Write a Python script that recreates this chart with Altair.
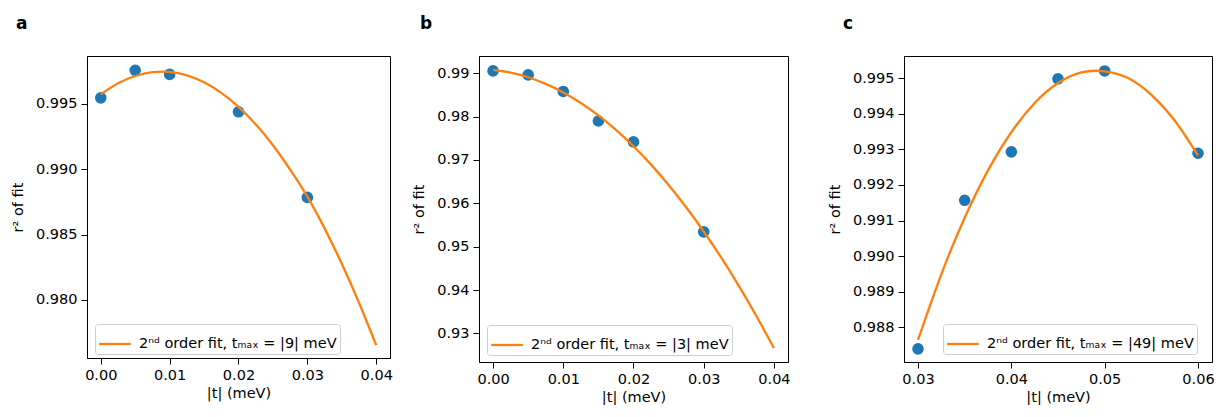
import altair as alt
import pandas as pd

FONT = "DejaVu Sans"
BLUE = "#1f77b4"
ORANGE = "#ff7f0e"

# ---- panel a ----
xa_pts = [0.0, 0.005, 0.01, 0.02, 0.03]
ya_pts = [0.99546, 0.99756, 0.99725, 0.99439, 0.98784]
xa_fit = [0.0, 0.0025, 0.005, 0.0075, 0.01, 0.0125, 0.015, 0.0175, 0.02,
          0.0225, 0.025, 0.0275, 0.03, 0.0325, 0.035, 0.0375, 0.04]
ya_fit = [0.99572, 0.99657, 0.99713, 0.99742, 0.99744, 0.99718, 0.99665, 0.99584, 0.99477,
          0.99343, 0.99183, 0.98997, 0.98790, 0.98547, 0.98276, 0.97978, 0.97653]
label_a = "2ⁿᵈ order fit, tₘₐₓ = |9| meV"

# ---- panel b ----
xb_pts = [0.0, 0.005, 0.01, 0.015, 0.02, 0.03]
yb_pts = [0.99053, 0.98961, 0.98579, 0.97898, 0.97416, 0.95342]
xb_fit = [0.0, 0.0025, 0.005, 0.0075, 0.01, 0.0125, 0.015, 0.0175, 0.02,
          0.0225, 0.025, 0.0275, 0.03, 0.0325, 0.035, 0.0375, 0.04]
yb_fit = [0.99076, 0.99014, 0.98907, 0.98755, 0.98557, 0.98314, 0.98027, 0.97693, 0.97315,
          0.96892, 0.96423, 0.95909, 0.95350, 0.94746, 0.94097, 0.93402, 0.92662]
label_b = "2ⁿᵈ order fit, tₘₐₓ = |3| meV"

# ---- panel c ----
xc_pts = [0.03, 0.035, 0.04, 0.045, 0.05, 0.06]
yc_pts = [0.98740, 0.99157, 0.99293, 0.99498, 0.99520, 0.99289]
xc_fit = [0.03, 0.0325, 0.035, 0.0375, 0.04, 0.0425, 0.045, 0.0475, 0.05,
          0.0525, 0.055, 0.0575, 0.06]
yc_fit = [0.98765, 0.98949, 0.99108, 0.99241, 0.99348, 0.99430, 0.99486, 0.99516, 0.99519,
          0.99500, 0.99453, 0.99381, 0.99283]
label_c = "2ⁿᵈ order fit, tₘₐₓ = |49| meV"

xticks_ab = [0.0, 0.01, 0.02, 0.03, 0.04]
xticks_c = [0.03, 0.04, 0.05, 0.06]
yticks_a = [0.980, 0.985, 0.990, 0.995]
yticks_b = [0.93, 0.94, 0.95, 0.96, 0.97, 0.98, 0.99]
yticks_c = [0.988, 0.989, 0.990, 0.991, 0.992, 0.993, 0.994, 0.995]


def panel(letter, xp, yp, xf, yf, xdom, ydom, xticks, yticks, xfmt, yfmt,
          label, w, h, lx, ly, dx):
    pts = pd.DataFrame({"x": xp, "y": yp})
    fit = pd.DataFrame({"x": xf, "y": yf, "s": [label] * len(xf)})
    xenc = alt.X("x:Q", scale=alt.Scale(domain=xdom, nice=False, zero=False),
                 axis=alt.Axis(values=xticks, format=xfmt, title="|t| (meV)"))
    yenc = alt.Y("y:Q", scale=alt.Scale(domain=ydom, nice=False, zero=False),
                 axis=alt.Axis(values=yticks, format=yfmt, title="r² of fit"))
    p = alt.Chart(pts).mark_circle(size=135, color=BLUE, opacity=1).encode(x=xenc, y=yenc)
    ln = alt.Chart(fit).mark_line(strokeWidth=2.3, interpolate="natural").encode(
        x=xenc, y=yenc,
        color=alt.Color("s:N", scale=alt.Scale(domain=[label], range=[ORANGE]),
                        legend=alt.Legend(title=None, orient="none", legendX=lx, legendY=ly,
                                          symbolType="stroke", symbolStrokeWidth=2.3,
                                          symbolSize=1000, labelFontSize=14.5, labelFont=FONT,
                                          labelColor="black", labelLimit=400, padding=3,
                                          strokeColor="#cccccc", cornerRadius=3,
                                          fillColor="white", labelOffset=7)))
    return alt.layer(p, ln).properties(
        width=w, height=h,
        title=alt.Title(letter, anchor="start", frame="group", dx=dx, offset=10,
                        fontSize=17, fontWeight="bold", font=FONT, baseline="alphabetic",
                        color="black"))


pa = panel("a", xa_pts, ya_pts, xa_fit, ya_fit, [-0.002, 0.042], [0.97555, 0.99866],
           xticks_ab, yticks_a, ".2f", ".3f", label_a, 303, 302, 8, 268, -71)
pb = panel("b", xb_pts, yb_pts, xb_fit, yb_fit, [-0.002, 0.042], [0.92341, 0.99397],
           xticks_ab, yticks_b, ".2f", ".2f", label_b, 309, 306, 8, 269, -59)
pc = panel("c", xc_pts, yc_pts, xc_fit, yc_fit, [0.0285, 0.0615], [0.98703, 0.99562],
           xticks_c, yticks_c, ".2f", ".3f", label_c, 308, 306, 39, 268, -61)

inner = alt.hconcat(pb, pc, spacing=35).resolve_scale(color="independent").resolve_legend(color="independent")
chart = alt.hconcat(pa, inner, spacing=18).resolve_scale(color="independent").resolve_legend(color="independent")

chart = chart.properties(padding={"left": 1, "top": 6, "right": 0, "bottom": 0}).configure_axis(
    labelFont=FONT, labelFontSize=14.5, titleFont=FONT, titleFontSize=14.5,
    titleFontWeight="normal", labelColor="black", titleColor="black",
    tickColor="black", domainColor="black", tickSize=6, labelPadding=4,
    grid=False, labelFlush=False
).configure_axisY(titlePadding=10).configure_axisX(titlePadding=5).configure_view(
    stroke="black", strokeWidth=1)

chart.save("out.html", embed_options={"renderer": "svg", "actions": False})
